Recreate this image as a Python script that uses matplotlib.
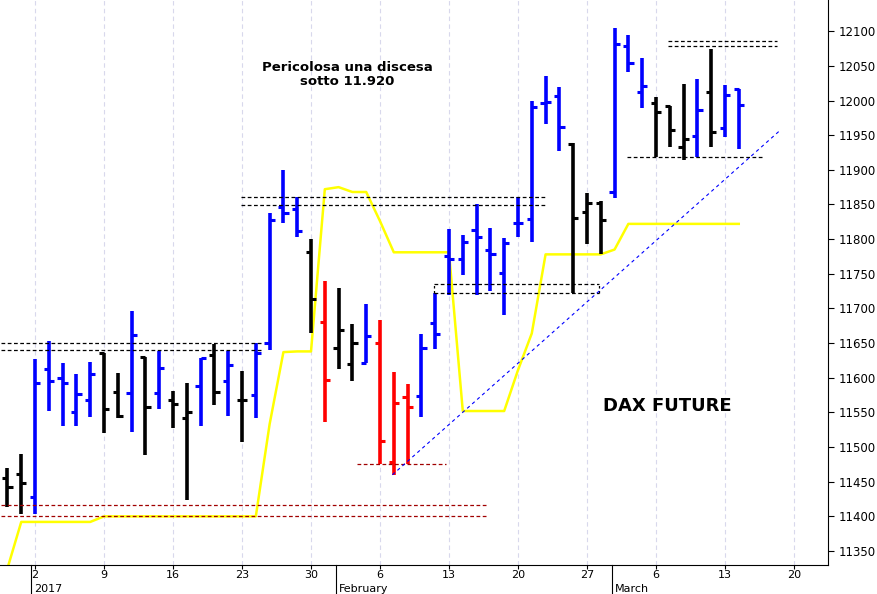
import matplotlib
matplotlib.use("Agg")
import matplotlib.pyplot as plt
import numpy as np

dates = ["Dec29","Dec30"] + ["Jan%d"%d for d in [2,3,4,5,6,9,10,11,12,13,16,17,18,19,20,23,24,25,26,27,30,31]] \
    + ["Feb%d"%d for d in [1,2,3,6,7,8,9,10,13,14,15,16,17,20,21,22,23,24,27,28]] \
    + ["Mar%d"%d for d in [1,2,3,6,7,8,9,10,13,14]]
opens  = [11455,11461,11428,11613,11600,11550,11568,11636,11579,11578,11630,11578,11568,11542,11588,11633,11595,11568,11575,
          11650,11846,11843,11781,11680,11643,11620,11621,11650,11478,11572,11573,11679,11775,11771,11813,11784,11751,
          11823,11829,11996,12006,11937,11839,11852,11868,12078,12012,11996,11992,11933,11949,12012,11960,12016]
highs  = [11470,11490,11627,11653,11621,11605,11623,11636,11607,11696,11630,11638,11581,11592,11628,11649,11638,11610,11650,
          11838,11900,11861,11800,11740,11729,11677,11706,11683,11608,11591,11663,11722,11814,11806,11850,11816,11801,
          11861,12000,12035,12019,11938,11866,11855,12104,12094,12061,12005,11992,12024,12031,12074,12022,12016]
lows   = [11413,11403,11403,11552,11530,11530,11543,11520,11542,11522,11489,11555,11527,11424,11530,11561,11545,11507,11542,
          11640,11823,11803,11665,11536,11613,11595,11621,11475,11460,11475,11543,11641,11719,11748,11719,11725,11690,
          11803,11796,11966,11927,11722,11793,11778,11859,12041,11989,11918,11933,11914,11918,11933,11947,11930]
closes = [11442,11448,11592,11595,11592,11576,11605,11555,11545,11662,11558,11614,11562,11550,11628,11579,11618,11568,11636,
          11827,11838,11812,11713,11597,11669,11650,11660,11509,11563,11558,11643,11663,11771,11796,11803,11778,11794,
          11823,11990,11998,11962,11830,11852,11827,12081,12054,12021,11983,11957,11944,11986,11954,12008,11993]
colors = list("kk" "bbbbb" "kkbkb" "kkbkb" "kbbbb" "kr" "kkb" "rrrbb" "bbbbb" "bbbb" "kkk" "bbb" "kkkbk" "bb")
yellow = [11325,11392,11392,11392,11392,11392,11392,11400,11400,11400,11400,11400,11400,11400,11400,11400,11400,11400,11400,
          11533,11637,11638,11638,11872,11875,11868,11868,11826,11781,11781,11781,11781,11781,11552,11552,11552,11552,
          11611,11664,11778,11778,11778,11778,11778,11785,11822,11822,11822,11822,11822,11822,11822,11822,11822]
# dashed support/resistance levels: (price, start idx, end idx, color)
levels = [(11650,-2.5,16.5,"k"),(11640,-2.5,16.5,"k"),(11417,-2.5,32.8,"#a00000"),(11401,-2.5,32.8,"#a00000"),
          (11861,14.9,37,"k"),(11849,14.9,37,"k"),(11735,28.9,40.9,"k"),(11722,28.9,40.9,"k"),
          (11475,23.3,29.8,"#a00000"),(12086,45.9,53.8,"k"),(12078,45.9,53.8,"k"),(11918,42.9,52.7,"k")]
trend = [(25.9,11460),(54,11957)]
tick_labels = ["2","9","16","23","30","6","13","20","27","6","13","20"]
months = [("2017",-0.1),("February",22.0),("March",42.0)]

col = {"k":"black","b":"#0000ff","r":"#ff0000"}
fig = plt.figure(figsize=(8.77,5.94), dpi=100)
ax = fig.add_axes([0.0,0.049,0.944,0.951])
n0 = -2
idx = np.arange(len(dates)) + n0
for i,o,h,l,c,cc in zip(idx,opens,highs,lows,closes,colors):
    ax.plot([i,i],[l,h],color=col[cc],lw=2.6,solid_capstyle="butt")
    ax.plot([i-0.38,i],[o,o],color=col[cc],lw=2.2,solid_capstyle="butt")
    ax.plot([i,i+0.38],[c,c],color=col[cc],lw=2.2,solid_capstyle="butt")
ax.plot(idx,yellow,color="#ffff00",lw=1.8,zorder=1)
for p,a,b,cc in levels:
    ax.plot([a,b],[p,p],color=cc,lw=0.9,ls=(0,(3,2)))
ax.plot([28.9,28.9],[11722,11735],color="k",lw=0.9,ls=(0,(2,2)))
ax.plot([40.9,40.9],[11722,11735],color="k",lw=0.9,ls=(0,(2,2)))
ax.plot([t[0] for t in trend],[t[1] for t in trend],color="#0000ff",lw=0.8,ls=(0,(3,3)))

ticks = np.arange(len(tick_labels))*5
ax.set_xticks(ticks)
ax.set_xticklabels(tick_labels,fontsize=8)
ax.tick_params(axis="x",length=3,pad=1)
for t in ticks:
    ax.axvline(t,color="#d8d8ec",lw=0.8,ls=(0,(4,3)),zorder=0)
ax.set_xlim(-2.54,57.46)
ax.set_ylim(11330,12145)
ax.yaxis.tick_right()
ax.set_yticks(np.arange(11350,12101,50))
ax.tick_params(axis="y",labelsize=8.5,length=4)
for s in ["top","left"]:
    ax.spines[s].set_visible(False)
tr = ax.get_xaxis_transform()
for name,x in months:
    ax.text(x+0.05,-0.043,name,transform=tr,fontsize=8,ha="left",va="center")
    ax.plot([x-0.2,x-0.2],[0,-0.06],transform=tr,color="k",lw=0.8,clip_on=False)
ax.text(22.6,12037,"Pericolosa una discesa\nsotto 11.920",ha="center",va="center",fontsize=9.5,fontweight="bold",linespacing=1.1)
ax.text(45.8,11559,"DAX FUTURE",ha="center",va="center",fontsize=13,fontweight="bold")
fig.savefig("out.png",dpi=100)
